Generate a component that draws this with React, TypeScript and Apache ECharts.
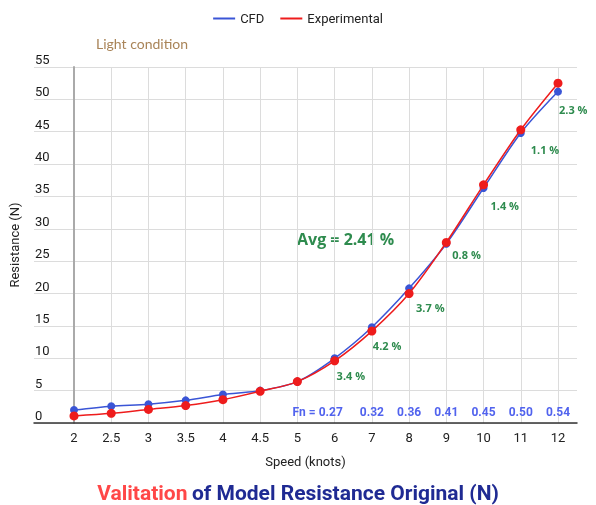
import React, { useEffect, useRef } from "react";
import * as echarts from "echarts";

const categories = ["2", "2.5", "3", "3.5", "4", "4.5", "5", "6", "7", "8", "9", "10", "11", "12"];
const cfdValues = [2.0, 2.6, 2.9, 3.5, 4.4, 5.0, 6.4, 10.0, 14.8, 20.8, 27.7, 36.3, 44.8, 51.2];
const expValues = [1.1, 1.5, 2.1, 2.7, 3.6, 4.9, 6.4, 9.6, 14.2, 20.0, 27.9, 36.8, 45.3, 52.5];
const pctLabels = ["", "", "", "", "", "", "", "3.4 %", "4.2 %", "3.7 %", "0.8 %", "1.4 %", "1.1 %", "2.3 %"];
const fnLabels = ["", "", "", "", "", "", "", "0.27", "0.32", "0.36", "0.41", "0.45", "0.50", "0.54"];
const yMin = 0;
const yMax = 55;
const yStep = 5;
const avgText = "Avg = 2.41 %";

// label offsets (styling): [dx, dy] from the experimental point
const pctOffsets: Record<number, [number, number]> = {
  7: [2, 15],
  8: [1, 14],
  9: [7, 14],
  10: [6, 12],
  11: [7, 21],
  12: [10, 20],
  13: [1, 26],
};

const BLUE = "#3a55d6";
const RED = "#ee1c1c";
const GREEN = "#2e8b4e";
const FN_BLUE = "#5163ee";
const FONT = "Roboto";

export default function App() {
  const ref = useRef<HTMLDivElement>(null);
  useEffect(() => {
    if (!ref.current) return;
    const chart = echarts.init(ref.current, null, { renderer: "svg" });
    const symSize = 9;
    const expData = expValues.map((v, i) => {
      if (!pctLabels[i]) return v;
      const off = pctOffsets[i] || [4, 14];
      return {
        value: v,
        label: {
          show: true,
          formatter: pctLabels[i],
          position: [off[0] + symSize / 2, off[1] + symSize / 2],
          align: "left",
          verticalAlign: "middle",
          color: GREEN,
          fontWeight: "bold",
          fontSize: 11,
          fontFamily: "Open Sans",
        },
      };
    });
    chart.setOption({
      animation: false,
      textStyle: { fontFamily: FONT },
      title: {
        text: "{r|Valitation} {b|of Model Resistance Original (N)}",
        left: "center",
        top: 477,
        textStyle: {
          rich: {
            r: { color: "#ff4747", fontSize: 21, fontWeight: "bold", fontFamily: FONT },
            b: { color: "#1f2a93", fontSize: 21, fontWeight: "bold", fontFamily: FONT },
          },
        },
      },
      legend: {
        data: ["CFD", "Experimental"],
        top: 7,
        left: "center",
        icon: "rect",
        itemWidth: 22,
        itemHeight: 2,
        itemGap: 16,
        textStyle: { fontSize: 13, color: "#222", fontFamily: FONT },
      },
      grid: [
        { left: 74, right: 38, top: 67, bottom: 82 },
        { left: 33, right: 19, top: 67, bottom: 82 },
      ],
      xAxis: [
        {
          type: "category",
          gridIndex: 0,
          data: categories,
          boundaryGap: false,
          axisLine: { show: false },
          axisTick: { show: false },
          axisLabel: { interval: 0, margin: 8, fontSize: 13, color: "#222", fontFamily: FONT },
          splitLine: { show: true, lineStyle: { color: "#dcdcdc", width: 1 } },
        },
        {
          type: "category",
          gridIndex: 0,
          position: "bottom",
          data: fnLabels,
          boundaryGap: false,
          axisLine: { show: false },
          axisTick: { show: false },
          splitLine: { show: false },
          axisLabel: {
            inside: true,
            interval: 0,
            margin: 5,
            formatter: (v: string, i: number) => {
              if (!v) return "";
              if (i === 7) return "{p|Fn = }{v|" + v + "}{s|}";
              return "{v|" + v + "}";
            },
            rich: {
              p: { color: FN_BLUE, fontWeight: "bold", fontSize: 12, fontFamily: FONT },
              v: { color: FN_BLUE, fontWeight: "bold", fontSize: 12, fontFamily: FONT },
              s: { width: 34 },
            },
          },
        },
        {
          type: "value",
          gridIndex: 1,
          min: 0,
          max: 1,
          axisLine: { show: true, onZero: false, lineStyle: { color: "#333", width: 1.5 } },
          axisTick: { show: false },
          axisLabel: { show: false },
          splitLine: { show: false },
          name: "Speed (knots)",
          nameLocation: "middle",
          nameGap: 32,
          nameTextStyle: { fontSize: 13, color: "#222", fontFamily: FONT },
        },
      ],
      yAxis: [
        {
          type: "value",
          gridIndex: 0,
          min: yMin,
          max: yMax,
          interval: yStep,
          axisLine: { show: true, lineStyle: { color: "#aaa", width: 2 } },
          axisTick: { show: false },
          axisLabel: { show: false },
          splitLine: { show: false },
        },
        {
          type: "value",
          gridIndex: 1,
          min: yMin,
          max: yMax,
          interval: yStep,
          axisLine: { show: false },
          axisTick: { show: false },
          axisLabel: {
            inside: true,
            margin: 1,
            verticalAlign: "bottom",
            align: "left",
            fontSize: 13,
            color: "#1a1a1a",
            fontFamily: FONT,
            padding: [0, 0, 1, 0],
          },
          splitLine: { show: true, lineStyle: { color: "#dcdcdc", width: 1 } },
          name: "Resistance (N)",
          nameLocation: "middle",
          nameGap: 13,
          nameRotate: 90,
          nameTextStyle: { fontSize: 13, color: "#222", fontFamily: FONT },
        },
      ],
      series: [
        {
          name: "CFD",
          type: "line",
          xAxisIndex: 0,
          yAxisIndex: 0,
          data: cfdValues,
          smooth: 0.3,
          symbol: "circle",
          symbolSize: 8,
          itemStyle: { color: BLUE },
          lineStyle: { color: BLUE, width: 1.5 },
          z: 3,
        },
        {
          name: "Experimental",
          type: "line",
          xAxisIndex: 0,
          yAxisIndex: 0,
          data: expData,
          smooth: 0.3,
          symbol: "circle",
          symbolSize: symSize,
          itemStyle: { color: RED },
          lineStyle: { color: RED, width: 1.5 },
          z: 4,
        },
      ],
      graphic: [
        {
          type: "text",
          left: 96,
          top: 36,
          style: { text: "Light condition", fill: "#a98458", fontSize: 14, fontFamily: "Lato" },
        },
        {
          type: "text",
          left: 297,
          top: 231,
          style: { text: avgText, fill: GREEN, fontSize: 16, fontWeight: "bold", fontFamily: "Open Sans" },
        },
      ],
    });
    return () => chart.dispose();
  }, []);
  return (
    <div
      ref={ref}
      style={{ position: "fixed", left: 0, top: 0, width: 596, height: 505 }}
    />
  );
}
